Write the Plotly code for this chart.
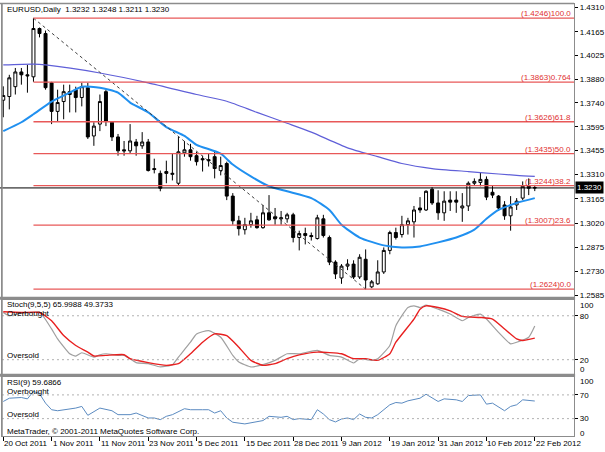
import pandas as pd
import plotly.graph_objects as go

# ---------------- data ----------------
dates = [d for d in pd.bdate_range("2011-10-20", "2012-02-22") if d != pd.Timestamp("2011-12-26")]
cats = [d.strftime("%Y-%m-%d") for d in dates]

opens = [1.3755, 1.3777, 1.3836, 1.3924, 1.3907, 1.3895, 1.4184, 1.4154, 1.3859, 1.3688,
         1.3747, 1.3806, 1.3818, 1.3771, 1.3830, 1.3541, 1.3612, 1.3806, 1.3623, 1.3535,
         1.3458, 1.3452, 1.3505, 1.3482, 1.3505, 1.3346, 1.3317, 1.3328, 1.3311, 1.3258,
         1.3440, 1.3458, 1.3423, 1.3405, 1.3399, 1.3417, 1.3334, 1.3376, 1.3181, 1.3033,
         1.2980, 1.3010, 1.3039, 1.2992, 1.3081, 1.3057, 1.3045, 1.3045, 1.3069, 1.2933,
         1.2957, 1.2945, 1.2927, 1.3045, 1.2933, 1.2786, 1.2691, 1.2762, 1.2774, 1.2697,
         1.2803, 1.2638, 1.2656, 1.2727, 1.2856, 1.2963, 1.2951, 1.3010, 1.3027, 1.3110,
         1.3098, 1.3222, 1.3140, 1.3081, 1.3157, 1.3157, 1.3110, 1.3122, 1.3258, 1.3263,
         1.3281, 1.3204, 1.3181, 1.3128, 1.3063, 1.3128, 1.3169, 1.3240, 1.3232]
highs = [1.3838, 1.3907, 1.3948, 1.3948, 1.3966, 1.4246, 1.4190, 1.4172, 1.3865, 1.3818,
         1.3848, 1.3848, 1.3836, 1.3859, 1.3859, 1.3623, 1.3789, 1.3818, 1.3629, 1.3553,
         1.3511, 1.3612, 1.3523, 1.3564, 1.3523, 1.3405, 1.3334, 1.3393, 1.3435, 1.3535,
         1.3511, 1.3494, 1.3446, 1.3423, 1.3435, 1.3452, 1.3417, 1.3387, 1.3199, 1.3063,
         1.3051, 1.3081, 1.3063, 1.3128, 1.3187, 1.3110, 1.3092, 1.3081, 1.3081, 1.2974,
         1.2992, 1.2963, 1.3069, 1.3069, 1.2945, 1.2797, 1.2774, 1.2803, 1.2797, 1.2833,
         1.2862, 1.2679, 1.2797, 1.2874, 1.2974, 1.2992, 1.3063, 1.3051, 1.3122, 1.3175,
         1.3216, 1.3234, 1.3216, 1.3210, 1.3210, 1.3210, 1.3199, 1.3269, 1.3287, 1.3322,
         1.3299, 1.3246, 1.3187, 1.3151, 1.3181, 1.3169, 1.3269, 1.3287, 1.3248]
lows = [1.3653, 1.3700, 1.3789, 1.3848, 1.3800, 1.3865, 1.4131, 1.3818, 1.3612, 1.3629,
        1.3641, 1.3682, 1.3682, 1.3718, 1.3523, 1.3482, 1.3570, 1.3600, 1.3511, 1.3423,
        1.3423, 1.3435, 1.3423, 1.3464, 1.3328, 1.3317, 1.3210, 1.3258, 1.3275, 1.3246,
        1.3417, 1.3393, 1.3364, 1.3328, 1.3358, 1.3287, 1.3305, 1.3157, 1.3010, 1.2945,
        1.2951, 1.2992, 1.2986, 1.2986, 1.3033, 1.3010, 1.3010, 1.3022, 1.2904, 1.2856,
        1.2892, 1.2915, 1.2921, 1.2933, 1.2768, 1.2685, 1.2656, 1.2738, 1.2685, 1.2685,
        1.2624, 1.2630, 1.2650, 1.2715, 1.2833, 1.2921, 1.2933, 1.2951, 1.2933, 1.3081,
        1.3092, 1.3128, 1.3039, 1.3033, 1.3092, 1.3081, 1.3027, 1.3092, 1.3246, 1.3240,
        1.3157, 1.3169, 1.3092, 1.3039, 1.2974, 1.3098, 1.3157, 1.3187, 1.3211]
closes = [1.3783, 1.3889, 1.3924, 1.3907, 1.3901, 1.4184, 1.4154, 1.3830, 1.3688, 1.3741,
          1.3806, 1.3789, 1.3771, 1.3836, 1.3535, 1.3600, 1.3747, 1.3629, 1.3535, 1.3452,
          1.3452, 1.3511, 1.3482, 1.3505, 1.3334, 1.3340, 1.3228, 1.3317, 1.3317, 1.3446,
          1.3458, 1.3417, 1.3387, 1.3399, 1.3393, 1.3346, 1.3364, 1.3181, 1.3033, 1.2986,
          1.3010, 1.3033, 1.2992, 1.3081, 1.3039, 1.3045, 1.3051, 1.3069, 1.2933, 1.2957,
          1.2945, 1.2939, 1.3051, 1.2945, 1.2786, 1.2715, 1.2762, 1.2774, 1.2697, 1.2815,
          1.2679, 1.2668, 1.2727, 1.2856, 1.2963, 1.2933, 1.3010, 1.3033, 1.3098, 1.3098,
          1.3210, 1.3140, 1.3081, 1.3151, 1.3145, 1.3145, 1.3122, 1.3258, 1.3269, 1.3281,
          1.3175, 1.3187, 1.3110, 1.3063, 1.3116, 1.3151, 1.3240, 1.3228, 1.3230]

ma_slow_idx = [0, 5, 7, 16, 24, 32, 37, 42, 47, 51, 57, 62, 66, 71, 77, 79, 85, 88]
ma_slow_val = [1.3966, 1.3971, 1.3966, 1.3918, 1.3859, 1.3789, 1.3749, 1.3682, 1.3617, 1.3564,
               1.3470, 1.3417, 1.3376, 1.3346, 1.3328, 1.3322, 1.3305, 1.3299]
ma_fast_idx = [0, 3, 5, 8, 11, 13, 16, 19, 21, 24, 27, 30, 32, 36, 38, 41, 44, 47, 51, 54, 56, 59,
               63, 66, 69, 72, 75, 78, 80, 82, 85, 88]
ma_fast_val = [1.3570, 1.3623, 1.3671, 1.3747, 1.3800, 1.3836, 1.3830, 1.3800, 1.3741, 1.3682,
               1.3594, 1.3541, 1.3488, 1.3435, 1.3370, 1.3299, 1.3240, 1.3210, 1.3169, 1.3098,
               1.3010, 1.2933, 1.2886, 1.2874, 1.2880, 1.2904, 1.2933, 1.2980, 1.3045, 1.3098,
               1.3140, 1.3169]

stoch_k_idx = [0, 1, 3, 5, 6, 8, 9, 11, 12, 13, 15, 16, 17, 19, 20, 22, 24, 26, 28, 29, 31, 32, 34,
               36, 38, 39, 41, 43, 45, 47, 49, 52, 54, 56, 58, 59, 61, 62, 64, 65, 67, 68, 69, 70,
               72, 74, 76, 77, 79, 80, 82, 84, 85, 87, 88]
stoch_k_val = [84.5, 80, 83.6, 84.5, 85.4, 62, 48.4, 28.1, 25, 29.5, 23.6, 26.8, 28.1, 25.9, 25.9,
               16, 14.6, 10.1, 13.2, 23.6, 43.9, 55.2, 59.7, 50.7, 25.9, 16.9, 10.1, 13.2, 19.1,
               28.1, 28.1, 32.6, 25.9, 23.6, 15.5, 21.4, 19.1, 21.4, 39.4, 66.5, 91.3, 93.5, 91.3,
               94.4, 89, 82.3, 73.2, 77.7, 82.3, 75.5, 57.4, 41.7, 43.9, 50.7, 65.9988]
stoch_d_idx = [0, 3, 6, 8, 10, 12, 14, 15, 17, 20, 21, 24, 27, 29, 31, 33, 35, 37, 39, 41, 43, 45,
               47, 49, 52, 56, 58, 60, 62, 64, 65, 68, 69, 70, 72, 74, 76, 79, 81, 83, 85, 86, 88]
stoch_d_val = [85.4, 84.5, 84.5, 73.2, 52.9, 39.4, 30.4, 25, 25.9, 26.8, 21.4, 16, 12.3, 14.6, 28.1,
               43.9, 55.2, 52.9, 37.1, 19.1, 12.3, 14.6, 21.4, 26.5, 30.4, 28.1, 21.4, 21.4, 19.1,
               28.1, 43.9, 75.5, 89, 93.5, 91.3, 86.8, 79.1, 77.7, 75.5, 62, 48.4, 46.2, 49.3733]

rsi_idx = [0, 1, 3, 4, 5, 6, 7, 8, 9, 12, 13, 14, 16, 18, 19, 21, 22, 24, 25, 26, 27, 28, 30, 31,
           33, 34, 35, 36, 37, 38, 40, 42, 43, 44, 46, 47, 48, 49, 51, 52, 53, 54, 55, 56, 57, 58,
           59, 60, 61, 62, 63, 64, 65, 66, 67, 68, 69, 70, 72, 73, 75, 76, 77, 79, 80, 81, 83, 84,
           85, 86, 87, 88]
rsi_val = [58.9, 64.4, 65.6, 63.3, 76, 72, 56.1, 45, 43.3, 47.8, 50.6, 35.6, 47.8, 43.3, 36.7, 36.7,
           39.4, 31.1, 31.1, 28.3, 33.9, 36.7, 46.7, 45, 45, 45, 39.4, 43.3, 31.1, 23.9, 21.1, 25.6,
           26.7, 33.9, 32.2, 33.9, 28.3, 30, 28.3, 45, 37.8, 28.3, 24.4, 29.4, 31.1, 28.3, 37.8,
           32.2, 31.1, 36.7, 45, 53.3, 57.2, 56.1, 60, 61.7, 64.4, 71.1, 58.9, 63.3, 61.7, 58.9,
           68.9, 70, 54.4, 56.1, 43.3, 50.6, 53.3, 61.7, 60.6, 59.6866]

fib_high, fib_low = 1.4246, 1.2624
fib_high_date, fib_low_date = "2011-10-27", "2012-01-13"
fib_ratios = [1.0, 0.764, 0.618, 0.5, 0.382, 0.236, 0.0]
fib_names = ["100.0", "0.764", "61.8", "50.0", "38.2", "23.6", "0.0"]

price_ticks = [1.4310, 1.4165, 1.4025, 1.3880, 1.3740, 1.3595, 1.3455, 1.3310, 1.3165,
               1.3020, 1.2875, 1.2730, 1.2585]
label_dates = ["2011-10-20", "2011-11-01", "2011-11-11", "2011-11-23", "2011-12-05", "2011-12-15",
               "2011-12-28", "2012-01-09", "2012-01-19", "2012-01-31", "2012-02-10", "2012-02-22"]
last_price = closes[-1]

# ---------------- layout helpers ----------------
W, H = 605, 452
def py(v):  # pixel row -> paper
    return 1 - v / H
def px(v):
    return v / W

FONT = "Liberation Sans"
XDOM = [px(2), px(576)]
XR = [-0.21, 94.51]

fig = go.Figure()

fig.add_trace(go.Candlestick(
    x=cats, open=opens, high=highs, low=lows, close=closes,
    increasing=dict(line=dict(color="black", width=1), fillcolor="white"),
    decreasing=dict(line=dict(color="black", width=1), fillcolor="black"),
    whiskerwidth=0, xaxis="x", yaxis="y", showlegend=False, hoverinfo="skip"))

fig.add_trace(go.Scatter(x=[cats[i] for i in ma_slow_idx], y=ma_slow_val, mode="lines",
                         line=dict(color="#5f5fd8", width=1.2, shape="spline", smoothing=0.6),
                         xaxis="x", yaxis="y", showlegend=False, hoverinfo="skip"))
fig.add_trace(go.Scatter(x=[cats[i] for i in ma_fast_idx], y=ma_fast_val, mode="lines",
                         line=dict(color="#2090f0", width=2, shape="spline", smoothing=0.6),
                         xaxis="x", yaxis="y", showlegend=False, hoverinfo="skip"))
# fibo trend line
fig.add_trace(go.Scatter(x=[fib_high_date, fib_low_date], y=[fib_high, fib_low], mode="lines",
                         line=dict(color="#404040", width=1, dash="3px,3px"),
                         xaxis="x", yaxis="y", showlegend=False, hoverinfo="skip"))

fig.add_trace(go.Scatter(x=[cats[i] for i in stoch_k_idx], y=stoch_k_val, mode="lines",
                         line=dict(color="#a0a0a0", width=1.2, shape="spline", smoothing=0.5),
                         xaxis="x2", yaxis="y2", showlegend=False, hoverinfo="skip"))
fig.add_trace(go.Scatter(x=[cats[i] for i in stoch_d_idx], y=stoch_d_val, mode="lines",
                         line=dict(color="#e82020", width=1.4, shape="spline", smoothing=0.5),
                         xaxis="x2", yaxis="y2", showlegend=False, hoverinfo="skip"))
fig.add_trace(go.Scatter(x=[cats[i] for i in rsi_idx], y=rsi_val, mode="lines",
                         line=dict(color="#5a8ac0", width=1),
                         xaxis="x3", yaxis="y3", showlegend=False, hoverinfo="skip"))

shapes = []
annotations = []
fib_x0 = cats.index(fib_high_date)
for r, nm in zip(fib_ratios, fib_names):
    lvl = round(fib_low + (fib_high - fib_low) * r, 4)
    shapes.append(dict(type="line", xref="x", yref="y", x0=fib_x0, x1=XR[1], y0=lvl, y1=lvl,
                       line=dict(color="#e85858", width=1.3)))
    annotations.append(dict(xref="paper", yref="y", x=px(575), y=lvl, xanchor="right",
                            yanchor="bottom", text="(%.4f)%s" % (lvl, nm), showarrow=False,
                            font=dict(family=FONT, size=8, color="#e03030"), yshift=-2))

# current price line
shapes.append(dict(type="line", xref="paper", yref="y", x0=0, x1=XDOM[1], y0=last_price, y1=last_price,
                   line=dict(color="black", width=1)))
annotations.append(dict(xref="paper", yref="y", x=px(577), y=last_price, xanchor="left", yanchor="middle",
                        text="%.4f" % last_price, showarrow=False, bgcolor="black",
                        font=dict(family=FONT, size=8, color="white"), borderpad=1))

# level lines in sub-windows
for lv in (80, 20):
    shapes.append(dict(type="line", xref="paper", yref="y2", x0=XDOM[0], x1=XDOM[1], y0=lv, y1=lv,
                       line=dict(color="#b0b0b0", width=1, dash="2px,3px")))
for lv in (70, 30):
    shapes.append(dict(type="line", xref="paper", yref="y3", x0=XDOM[0], x1=XDOM[1], y0=lv, y1=lv,
                       line=dict(color="#b0b0b0", width=1, dash="2px,3px")))

# separators
for top, bot in ((299, 302), (377, 380)):
    shapes.append(dict(type="rect", xref="paper", yref="paper", x0=0, x1=XDOM[1] + px(1),
                       y0=py(bot), y1=py(top), fillcolor="#8c8c8c", line=dict(width=0)))
shapes.append(dict(type="line", xref="paper", yref="paper", x0=0, x1=XDOM[1], y0=py(2.5), y1=py(2.5),
                   line=dict(color="#8c8c8c", width=1.5)))
shapes.append(dict(type="line", xref="paper", yref="paper", x0=px(2), x1=px(2), y0=py(440), y1=py(2.5),
                   line=dict(color="#8c8c8c", width=1.5)))

def txt(x, y, s, size=8, color="black", anchor="left"):
    annotations.append(dict(xref="paper", yref="paper", x=px(x), y=py(y), xanchor=anchor,
                            yanchor="middle", text=s, showarrow=False,
                            font=dict(family=FONT, size=size, color=color)))

txt(5, 9, "EURUSD,Daily  %.4f %.4f %.4f %.4f" % (opens[-1], highs[-1], lows[-1], closes[-1]))
txt(5, 307, "Stoch(9,5,5) %.4f %.4f" % (stoch_k_val[-1], stoch_d_val[-1]))
txt(5, 316.5, "Overbought")
txt(5, 358, "Oversold")
txt(5, 385.5, "RSI(9) %.4f" % rsi_val[-1])
txt(5, 395, "Overbought")
txt(5, 418, "Oversold")
txt(5, 435, "MetaTrader, © 2001-2011 MetaQuotes Software Corp.")

# subwindow right labels for 100/0
txt(580, 308, "100")
txt(580, 373, "0")
txt(580, 385, "100")
txt(580, 437, "0")

# date labels
for d in label_dates:
    dt = pd.Timestamp(d)
    annotations.append(dict(xref="x3", yref="paper", x=d, y=py(447), xanchor="left", yanchor="middle",
                            text="%d %s" % (dt.day, dt.strftime("%b %Y")), showarrow=False,
                            font=dict(family=FONT, size=8, color="black"), xshift=-1))

axis_common = dict(type="category", range=XR, domain=XDOM, showgrid=False, zeroline=False,
                   showline=True, linecolor="#8c8c8c", mirror=True, fixedrange=True,
                   categoryorder="array", categoryarray=cats)

fig.update_layout(
    width=W, height=H, margin=dict(l=0, r=0, t=0, b=0),
    paper_bgcolor="white", plot_bgcolor="white",
    font=dict(family=FONT, size=8, color="black"),
    showlegend=False,
    xaxis=dict(axis_common, anchor="y", showticklabels=False, ticks="", rangeslider=dict(visible=False)),
    xaxis2=dict(axis_common, anchor="y2", matches="x", showticklabels=False, ticks=""),
    xaxis3=dict(axis_common, anchor="y3", matches="x", showticklabels=False, ticks="outside",
                ticklen=4, tickcolor="black", tickvals=label_dates),
    yaxis=dict(domain=[py(299), py(3)], range=[1.2579, 1.4331], side="right", anchor="x",
               tickvals=price_ticks, ticktext=["%.4f" % t for t in price_ticks],
               ticks="outside", ticklen=3, tickcolor="black", showgrid=False, zeroline=False,
               showline=True, linecolor="#8c8c8c", mirror=True,
               tickfont=dict(family=FONT, size=8)),
    yaxis2=dict(domain=[py(377), py(302)], range=[0.7, 102], side="right", anchor="x2",
                tickvals=[80, 20], ticks="outside", ticklen=3, tickcolor="black",
                showgrid=False, zeroline=False, showline=True, linecolor="#8c8c8c", mirror=True,
                tickfont=dict(family=FONT, size=8)),
    yaxis3=dict(domain=[py(440), py(380)], range=[0.5, 100.5], side="right", anchor="x3",
                tickvals=[70, 30], ticks="outside", ticklen=3, tickcolor="black",
                showgrid=False, zeroline=False, showline=True, linecolor="#8c8c8c", mirror=True,
                tickfont=dict(family=FONT, size=8)),
    shapes=shapes, annotations=annotations,
)

fig.write_html("out.html")
